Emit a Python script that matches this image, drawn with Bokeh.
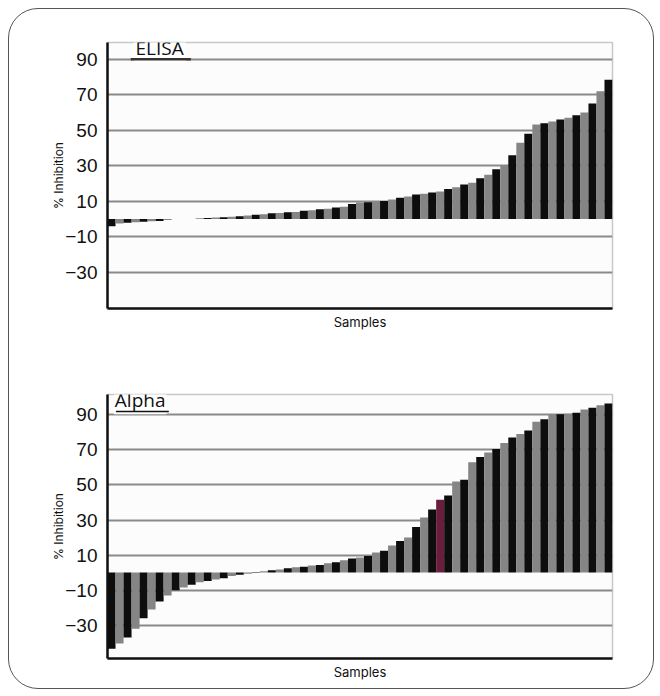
from bokeh.plotting import figure
from bokeh.layouts import column
from bokeh.models import FixedTicker, Label, ColumnDataSource, Range1d
from bokeh.embed import file_html
from bokeh.resources import INLINE

# ---------------- data ----------------
y_ticks = [-30, -10, 10, 30, 50, 70, 90]

elisa_values = [-4, -2.5, -2, -1.8, -1.5, -1.2, -1, -0.5, 0, 0, 0, 0.5, 0.7, 0.9, 1.1,
                1.3, 1.6, 2.0, 2.4, 2.8, 3.3, 3.5, 3.8, 4.0, 4.7, 5.0, 5.5, 5.8, 6.5,
                7.0, 8.5, 9.3, 9.5, 9.8, 10.2, 11, 12, 12.8, 13.8, 14.3, 15, 15.6, 17,
                18, 19.5, 20.5, 23, 25, 28, 30.5, 36, 43, 48, 53.3, 54, 55, 56, 57,
                58.5, 60, 65, 72, 78.5]

alpha_values = [-43.5, -40.5, -37, -32, -26, -21, -16.5, -13, -10, -8.5, -7, -5.5, -4.8,
                -4, -3.2, -2, -1.2, -0.6, 0.3, 0.8, 1.3, 1.8, 2.5, 3, 3.4, 4, 4.4, 5.3,
                5.9, 7, 8, 8.6, 9.5, 11.5, 12.5, 15.5, 18, 20, 26, 31.5, 36, 41.5, 44,
                52, 53, 63, 66, 68.5, 70.5, 74, 77, 79, 81, 86, 87.5, 90, 90.3, 90.6,
                91.2, 93, 94, 95.5, 96.5]
alpha_highlight = 41  # index of the maroon bar

BLACK = "#0d0d0d"
GRAY = "#858585"
MAROON = "#6a1d3c"


def make_chart(values, y_lo, y_hi, height, b_top, b_bottom, colors):
    n = len(values)
    src = ColumnDataSource(dict(x=list(range(n)), top=values, color=colors))
    p = figure(width=644, height=height, output_backend="svg", toolbar_location=None,
               x_range=Range1d(-0.5, n - 0.5), y_range=Range1d(y_lo, y_hi),
               min_border_left=98, min_border_right=41,
               min_border_top=b_top, min_border_bottom=b_bottom)
    p.border_fill_color = None
    p.background_fill_color = "#fcfcfc"
    p.outline_line_color = "#c8c8c8"
    p.outline_line_width = 1.5

    p.vbar(x="x", top="top", bottom=0, width=1.0, source=src,
           fill_color="color", line_color=None)

    # y axis
    p.yaxis.ticker = FixedTicker(ticks=y_ticks)
    p.yaxis.axis_label = "% Inhibition"
    p.yaxis.axis_label_text_font = "Inter"
    p.yaxis.axis_label_text_font_size = "12px"
    p.yaxis.axis_label_text_font_style = "normal"
    p.yaxis.axis_label_text_color = "#111111"
    p.yaxis.axis_label_standoff = -4
    p.yaxis.major_label_text_font = "Liberation Sans"
    p.yaxis.major_label_text_font_size = "19px"
    p.yaxis.major_label_text_color = "#111111"
    p.yaxis.major_label_standoff = 10
    p.yaxis.major_tick_out = 0
    p.yaxis.major_tick_in = 0
    p.yaxis.minor_tick_out = 0
    p.yaxis.minor_tick_in = 0
    p.yaxis.axis_line_color = "#111111"
    p.yaxis.axis_line_width = 2.5

    # x axis
    p.xaxis.ticker = FixedTicker(ticks=[])
    p.xaxis.major_label_text_font_size = "0px"
    p.xaxis.major_tick_out = 0
    p.xaxis.major_tick_in = 0
    p.xaxis.minor_tick_out = 0
    p.xaxis.minor_tick_in = 0
    p.xaxis.axis_label = "Samples"
    p.xaxis.axis_label_text_font = "Inter"
    p.xaxis.axis_label_text_font_size = "13px"
    p.xaxis.axis_label_text_font_style = "normal"
    p.xaxis.axis_label_text_color = "#111111"
    p.xaxis.axis_label_standoff = 5
    p.xaxis.axis_line_color = "#111111"
    p.xaxis.axis_line_width = 2.5

    # grid
    p.xgrid.grid_line_color = None
    p.ygrid.ticker = FixedTicker(ticks=y_ticks)
    p.ygrid.grid_line_color = "#8a8a8a"
    p.ygrid.grid_line_width = 2
    return p


# ---------------- top: ELISA ----------------
elisa_colors = [BLACK if i % 2 == 0 else GRAY for i in range(len(elisa_values))]
p1 = make_chart(elisa_values, -50.3, 99.4, 348, 33, 49, elisa_colors)
lab1 = Label(x=2.75, y=88.0, text="ELISA", text_font="Open Sans", text_font_size="19px",
             text_color="#111111", background_fill_color="white",
             background_fill_alpha=1.0, padding=2, anchor="bottom_left")
p1.add_layout(lab1)
u1 = p1.segment(x0=[2.4], y0=[90], x1=[9.9], y1=[90], line_color="#333333",
                line_width=2.5)
u1.level = "overlay"

# ---------------- bottom: Alpha ----------------
alpha_colors = [BLACK if i % 2 == 0 else GRAY for i in range(len(alpha_values))]
alpha_colors[alpha_highlight] = MAROON
p2 = make_chart(alpha_values, -49, 101.6, 331, 37, 30, alpha_colors)
lab2 = Label(x=0.29, y=90.3, text="Alpha", text_font="Open Sans", text_font_size="19px",
             text_color="#111111", background_fill_color="white",
             background_fill_alpha=1.0, padding=1, anchor="bottom_left")
p2.add_layout(lab2)
u2 = p2.segment(x0=[0.55], y0=[91.9], x1=[7.15], y1=[91.9], line_color="#111111",
                line_width=1.5)
u2.level = "overlay"

layout = column(p1, p2, spacing=0,
                styles={"border": "1px solid #555555", "border-radius": "30px",
                        "margin-left": "8px", "margin-top": "8px"})

open("out.html", "w").write(file_html(layout, INLINE))
